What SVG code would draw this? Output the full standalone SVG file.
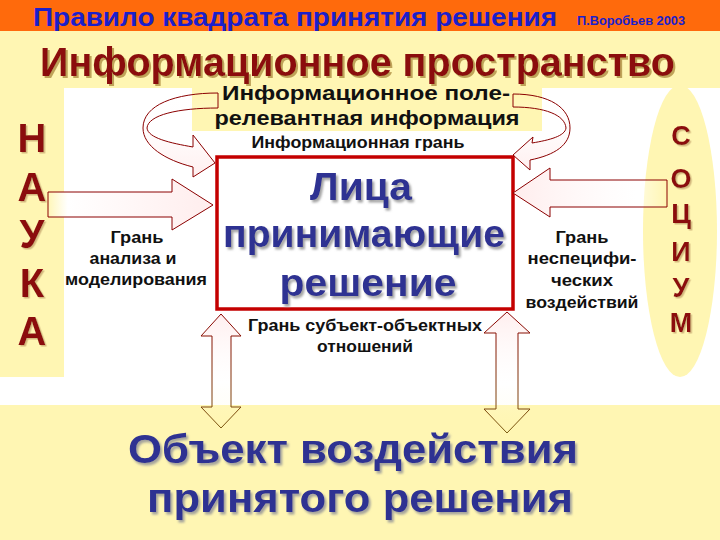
<svg xmlns="http://www.w3.org/2000/svg" width="720" height="540" viewBox="0 0 720 540">
<defs>
<style>
text{font-family:"Liberation Sans",Arial,sans-serif;}
.b{font-weight:bold;}
.lbl{font-size:16px;fill:#111;font-weight:bold;}
.red{fill:#8B1010;font-weight:bold;}
.navy{fill:#2E3192;font-weight:bold;}
.arr{stroke:#8B0000;stroke-width:1;stroke-linejoin:miter;}
</style>
<filter id="shR" x="-5%" y="-20%" width="110%" height="150%"><feDropShadow dx="2" dy="2" stdDeviation="0.6" flood-color="#B89A50" flood-opacity="0.9"/></filter>
<filter id="shB" x="-5%" y="-20%" width="110%" height="150%"><feDropShadow dx="2" dy="2.5" stdDeviation="0.8" flood-color="#9A9A9A" flood-opacity="0.9"/></filter>
<filter id="shS" x="-20%" y="-20%" width="150%" height="150%"><feDropShadow dx="1.5" dy="1.5" stdDeviation="0.5" flood-color="#C8A870" flood-opacity="0.8"/></filter>
<linearGradient id="gL" gradientUnits="userSpaceOnUse" x1="48" y1="0" x2="213" y2="0">
<stop offset="0" stop-color="#FFF6B8"/><stop offset="0.12" stop-color="#FFFFFF"/><stop offset="1" stop-color="#FFEDED"/>
</linearGradient>
<linearGradient id="gR" gradientUnits="userSpaceOnUse" x1="513" y1="0" x2="667" y2="0">
<stop offset="0" stop-color="#FFEDED"/><stop offset="0.8" stop-color="#FFFFFF" stop-opacity="0.6"/><stop offset="1" stop-color="#FFFFFF" stop-opacity="0"/>
</linearGradient>
<linearGradient id="gC" x1="0" y1="0" x2="0" y2="1">
<stop offset="0" stop-color="#FFFFFF" stop-opacity="0"/><stop offset="1" stop-color="#FFEDED" stop-opacity="0.9"/>
</linearGradient>
<linearGradient id="gV" x1="0" y1="0" x2="0" y2="1">
<stop offset="0" stop-color="#FFEDED" stop-opacity="0.9"/><stop offset="0.6" stop-color="#FFFFFF" stop-opacity="0.3"/><stop offset="1" stop-color="#FFF6B8" stop-opacity="0"/>
</linearGradient>
<linearGradient id="sV" gradientUnits="userSpaceOnUse" x1="0" y1="312" x2="0" y2="433">
<stop offset="0" stop-color="#8B0000"/><stop offset="1" stop-color="#7A5A10"/>
</linearGradient>
</defs>

<g id="background">
<rect x="0" y="0" width="720" height="540" fill="#FFF6B3"/>
<rect x="0" y="0" width="720" height="31" fill="#FF6A0C"/>
<rect x="0" y="88" width="720" height="317" fill="#FFFFFF"/>
</g>

<g id="header">
<text x="33" y="26" class="b" font-size="25" fill="#1B1FCB" textLength="524" lengthAdjust="spacingAndGlyphs">Правило квадрата принятия решения</text>
<text x="577" y="25" class="b" font-size="12.5" fill="#1B1FCB" textLength="108" lengthAdjust="spacingAndGlyphs">П.Воробьев 2003</text>
<text x="40" y="76" class="red" font-size="40" fill="#8B0A0A" textLength="635" lengthAdjust="spacingAndGlyphs" filter="url(#shR)">Информационное пространство</text>
</g>

<g id="nauka">
<rect x="0" y="88" width="64" height="289" fill="#FFF6B3"/>
<g class="red" font-size="40" text-anchor="middle" filter="url(#shS)">
<text x="32" y="152">Н</text>
<text x="32" y="201">А</text>
<text x="32" y="248">У</text>
<text x="32" y="297">К</text>
<text x="32" y="345">А</text>
</g>
</g>

<g id="socium">
<ellipse cx="680" cy="231" rx="37" ry="146" fill="#FFF6B3"/>
<g class="red" font-size="27" text-anchor="middle" filter="url(#shS)">
<text x="681" y="145">С</text>
<text x="681" y="188">О</text>
<text x="681" y="223">Ц</text>
<text x="681" y="261">И</text>
<text x="681" y="297">У</text>
<text x="681" y="332">М</text>
</g>
</g>

<g id="info-field">
<rect x="192" y="88" width="350" height="43" fill="#FFF6B3"/>
<text x="366" y="100" class="b" font-size="19.5" fill="#111" text-anchor="middle" textLength="288" lengthAdjust="spacingAndGlyphs">Информационное поле-</text>
<text x="367" y="125" class="b" font-size="20" fill="#111" text-anchor="middle" textLength="305" lengthAdjust="spacingAndGlyphs">релевантная информация</text>
</g>

<g id="lpr">
<rect x="217" y="157" width="296" height="152" fill="#FFFFFF" stroke="#C40000" stroke-width="3.5"/>
<g class="navy" font-size="39" text-anchor="middle" filter="url(#shB)">
<text x="361" y="200" textLength="102" lengthAdjust="spacingAndGlyphs">Лица</text>
<text x="364" y="247" textLength="282" lengthAdjust="spacingAndGlyphs">принимающие</text>
<text x="368" y="296" textLength="177" lengthAdjust="spacingAndGlyphs">решение</text>
</g>
</g>

<g id="object">
<g class="navy" font-size="40" text-anchor="middle" filter="url(#shB)">
<text x="353" y="463" textLength="450" lengthAdjust="spacingAndGlyphs">Объект воздействия</text>
<text x="360" y="512" textLength="426" lengthAdjust="spacingAndGlyphs">принятого решения</text>
</g>
</g>

<g id="connectors">
<path class="arr" fill="url(#gL)" d="M48,192 L172,192 L172,179 L213,205 L172,230 L172,217 L48,217 Z"/>
<path class="arr" fill="url(#gR)" d="M513,193 L550,168 L550,180 L667,180 L667,207 L550,207 L550,217 Z"/>
<path class="arr" fill="url(#gC)" d="M218,93 C175,93 143,105 143,128 C143,146 165,160 193,167 L193,177 L215,163 L193,135 L193,147 C170,143 148,138 147,128 C148,115 178,108 218,108 Z"/>
<path class="arr" fill="url(#gC)" d="M513,94 C550,94 570,108 570,128 C570,145 555,155 530,160 L530,170 L513,155 L533,137 L532,143 C550,140 565,136 566,128 C565,115 545,107 513,107 Z"/>
<path fill="url(#gV)" stroke="url(#sV)" stroke-width="1" d="M221,314 L241,336 L231,336 L231,407 L241,407 L221,428 L201,407 L212,407 L212,336 L201,336 Z"/>
<path fill="url(#gV)" stroke="url(#sV)" stroke-width="1" d="M507,312 L530,333 L518,333 L518,409 L530,409 L507,433 L484,409 L496,409 L496,333 L484,333 Z"/>
</g>

<g id="labels">
<text x="358" y="148" font-size="17" fill="#111" class="b" text-anchor="middle" textLength="213" lengthAdjust="spacingAndGlyphs">Информационная грань</text>
<text x="137" y="243" class="lbl" text-anchor="middle" textLength="53" lengthAdjust="spacingAndGlyphs">Грань</text>
<text x="133" y="264" class="lbl" text-anchor="middle" textLength="87" lengthAdjust="spacingAndGlyphs">анализа и</text>
<text x="136" y="285" class="lbl" text-anchor="middle" textLength="142" lengthAdjust="spacingAndGlyphs">моделирования</text>
<text x="582" y="243" class="lbl" text-anchor="middle" textLength="53" lengthAdjust="spacingAndGlyphs">Грань</text>
<text x="582" y="264" class="lbl" text-anchor="middle" textLength="109" lengthAdjust="spacingAndGlyphs">неспецифи-</text>
<text x="582" y="286" class="lbl" text-anchor="middle" textLength="62" lengthAdjust="spacingAndGlyphs">ческих</text>
<text x="582" y="308" class="lbl" text-anchor="middle" textLength="113" lengthAdjust="spacingAndGlyphs">воздействий</text>
<text x="365" y="331" class="lbl" text-anchor="middle" textLength="234" lengthAdjust="spacingAndGlyphs">Грань субъект-объектных</text>
<text x="365" y="352" class="lbl" text-anchor="middle" textLength="96" lengthAdjust="spacingAndGlyphs">отношений</text>
</g>
</svg>
